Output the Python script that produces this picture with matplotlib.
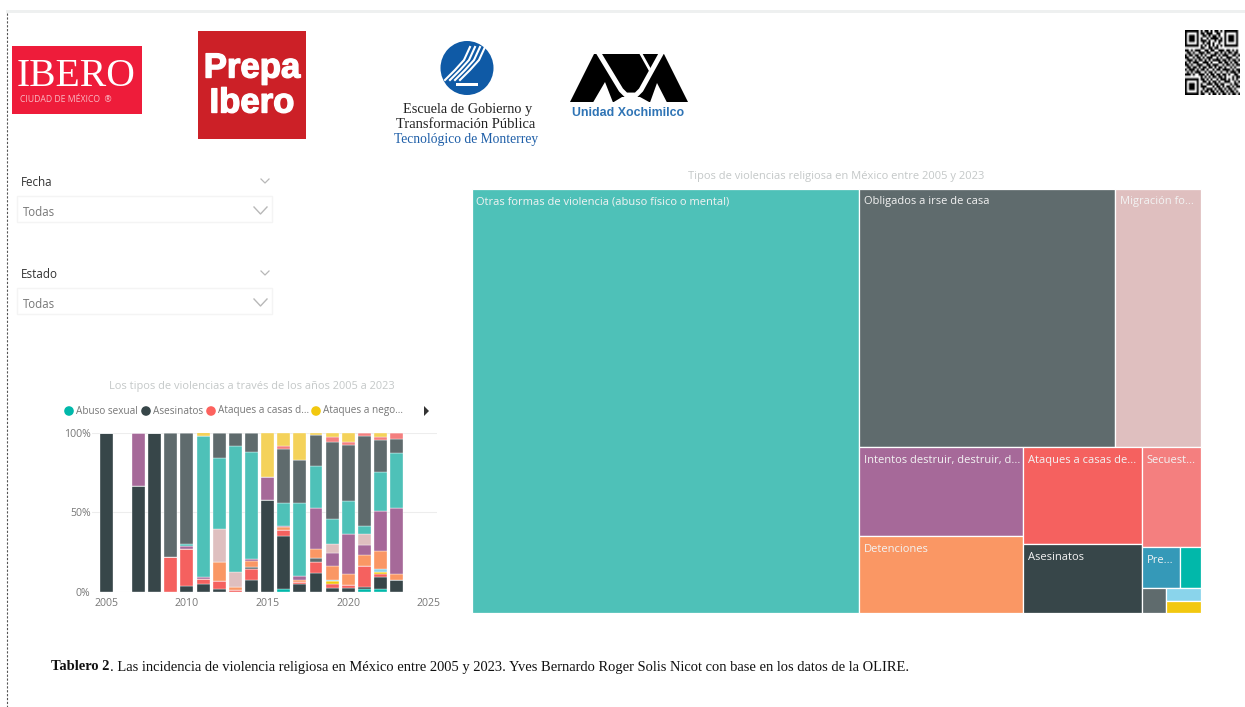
import matplotlib
matplotlib.use("Agg")
import matplotlib.pyplot as plt
import matplotlib.patheffects as pe
from matplotlib.patches import Rectangle, Ellipse, Polygon, Circle
import numpy as np

W, H = 1245, 707

# bar chart data (share per year, %), bottom to top
years = list(range(2005, 2024))
abuso_sexual = [0, 0, 0, 0, 0, 0, 0, 0, 0, 0, 0, 1.5, 0, 0, 0, 0, 1.5, 1.5, 0]
asesinatos = [100, 0, 66.5, 100, 0, 3.5, 4.5, 1.5, 0, 7, 57.5, 33.5, 5, 11.5, 2.5, 2.5, 1.5, 7.5, 7]
ataques_casas = [0, 0, 0, 0, 22, 23, 3.5, 5, 1, 7, 0, 4, 1, 7, 2, 1.5, 13, 2, 0]
ataques_negocios = [0, 0, 0, 0, 0, 0, 0, 0, 0, 0, 0, 0, 0, 0, 2, 0, 0, 1, 0]
otros_gris = [0, 0, 0, 0, 0, 0, 0, 0, 0, 1.5, 0, 0, 0, 2.5, 0, 0, 0, 0, 0]
otros_azul = [0, 0, 0, 0, 0, 0, 0, 0, 0, 0, 0, 0, 0, 0, 1, 0, 0, 2, 0]
detenciones = [0, 0, 0, 0, 0, 0, 0, 12, 2, 4, 0, 1.5, 1.5, 5.5, 8.5, 7, 7, 11.5, 4]
intentos = [0, 0, 33.5, 0, 0, 2, 1, 0, 0, 1, 14.5, 1, 2, 26, 8.5, 25.5, 6.5, 25, 41.5]
migracion = [0, 0, 0, 0, 0, 0, 0, 21, 9.5, 0, 0, 0, 0, 0, 5.5, 0, 6.5, 0, 0]
otras_formas = [0, 0, 0, 0, 0, 1.5, 89, 44.5, 79, 67.5, 0, 14, 46, 26.5, 15.5, 20.5, 5, 24.5, 34.5]
obligados = [0, 0, 0, 0, 78, 70, 0, 15.5, 8, 11.5, 0, 34.5, 27.5, 19.5, 48.5, 35.5, 57, 20.5, 9]
secuestros = [0, 0, 0, 0, 0, 0, 0, 0, 0, 0, 0, 1.5, 0, 0, 3, 1.5, 2, 1.5, 4]
amarillo_claro = [0, 0, 0, 0, 0, 0, 2.5, 0.5, 0.5, 0.5, 28, 8.5, 17, 1.5, 3, 6, 0, 3, 0]

bar_series = [
    (abuso_sexual, "#01B8AA"), (asesinatos, "#374649"), (ataques_casas, "#F5615F"),
    (ataques_negocios, "#F2C80F"), (otros_gris, "#5F6B6D"), (otros_azul, "#8AD4EB"),
    (detenciones, "#FA9764"), (intentos, "#A66999"), (migracion, "#DFBFBF"),
    (otras_formas, "#4EC1B8"), (obligados, "#5F6B6D"), (secuestros, "#F47F7F"),
    (amarillo_claro, "#F4D25A"),
]

legend_names = ["Abuso sexual", "Asesinatos", "Ataques a casas d...", "Ataques a nego..."]
legend_colors = ["#01B8AA", "#374649", "#FD625E", "#F2C80F"]
legend_x = [69, 146, 211, 316]

# treemap values, named by label
tm_otras = 163664
tm_obligados = 66048
tm_migracion = 22188
tm_intentos = 14507
tm_detenciones = 12551
tm_casas = 11446
tm_asesinatos = 8142
tm_secuestros = 5880
tm_pre = 1558
tm_abuso = 861
tm_gris = 600
tm_azul = 442
tm_negocios = 408

qr_rows = [
    "1111111010110101101011111110",
    "1000001011011100110010000010",
    "1011101001101011010010111010",
    "1011101010010111101010111010",
    "1011101011101001011010111010",
    "1000001001011010010010000010",
    "1111111010101010101011111110",
    "0000000011001101100000000000",
    "1101011100110110011101101010",
    "0110100111011001101010110110",
    "1011011010100111010111001101",
    "1100101101011100101001110010",
    "0111010110101011110110101101",
    "1010111001110100011011010110",
    "1101001110011011100101101011",
    "0110110101101101011010010100",
    "1011101011010010110111101011",
    "0101011100101101001001011101",
    "1110100111010110110110100110",
    "0000000010101011011010001011",
    "1111111011010100101110101010",
    "1000001001101011010011100101",
    "1011101010011101101100010110",
    "1011101011100010110101101011",
    "1011101001011101011010110100",
    "1000001010110110101101011010",
    "1111111011001011010110101101",
]

fig = plt.figure(figsize=(W / 100, H / 100), dpi=100, facecolor="white")
plt.rcParams["font.family"] = ["Open Sans", "DejaVu Sans"]

bg = fig.add_axes([0, 0, 1, 1])
bg.set_xlim(0, W)
bg.set_ylim(H, 0)
bg.axis("off")

# page edge
bg.add_patch(Rectangle((6, 10), W, 3, color="#EEF0F0", lw=0))
bg.plot([6.5, 6.5], [13, H], color="#555555", lw=0.8, ls=(0, (2, 1.5)))

# logos
bg.add_patch(Rectangle((12, 46), 130, 68, color="#EE1C3A", lw=0))
bg.text(76, 76, "IBERO", family="Liberation Serif", color="white", fontsize=28.5, ha="center", va="center")
bg.text(66, 100, "CIUDAD DE MÉXICO  ®", color="#F9B8C2", fontsize=6.2, ha="center", va="center")

bg.add_patch(Rectangle((198, 31), 108, 108, color="#CC2027", lw=0))
thick = [pe.withStroke(linewidth=1.0, foreground="white")]
bg.text(252, 68, "Prepa", color="white", fontsize=25, weight="bold", family="Liberation Sans",
        ha="center", va="center", path_effects=thick)
bg.text(252, 103, "Ibero", color="white", fontsize=25, weight="bold", family="Liberation Sans",
        ha="center", va="center", path_effects=thick)

bg.add_patch(Ellipse((467, 68), 53, 54, color="#0F5AA6", lw=0))
for dx in [-10, -5, 0, 5]:
    bg.plot([455 + dx, 465 + dx, 474 + dx, 480 + dx],
            [80, 70, 60, 47], color="white", lw=1.5)
bg.add_patch(Rectangle((456, 83), 22, 2.5, color="white", lw=0))
bg.text(468, 109, "Escuela de Gobierno y", family="Liberation Serif", fontsize=10.3, color="#222222", ha="center", va="center")
bg.text(466, 125, "Transformación Pública", family="Liberation Serif", fontsize=10.5, color="#222222", ha="center", va="center")
bg.text(466, 140, "Tecnológico de Monterrey", family="Liberation Serif", fontsize=9.8, color="#1F5FA8", ha="center", va="center")

bg.add_patch(Polygon([(570, 102), (594, 54), (664, 54), (688, 102)], color="black", lw=0))
bg.add_patch(Polygon([(593, 102.5), (605, 82), (613, 102.5)], color="white", lw=0))
bg.add_patch(Polygon([(650, 102.5), (657, 83), (667, 102.5)], color="white", lw=0))
bg.add_patch(Polygon([(613, 102.5), (650, 102.5), (640, 97), (622, 97)], color="white", lw=0))
bg.plot([598, 621, 626, 636, 641, 662], [52, 90, 95, 95, 90, 52], color="white", lw=3.5)
bg.plot([640, 650], [52, 70], color="white", lw=2)
bg.text(628, 113, "Unidad Xochimilco", family="Liberation Sans", weight="bold", fontsize=8.9, color="#2F74B5", ha="center", va="center")

# qr code
qr = np.array([[int(c) for c in row] for row in qr_rows])
bg.imshow(1 - qr, cmap="gray", extent=(1185, 1240, 95, 30), aspect="auto", interpolation="bilinear", vmin=0, vmax=1)
bg.set_xlim(0, W)
bg.set_ylim(H, 0)

# slicers
for top, name in [(182, "Fecha"), (274, "Estado")]:
    bg.text(21, top, name, fontsize=8.4, color="#333333", va="center")
    bg.plot([261, 265, 269], [top - 3, top + 1, top - 3], color="#B8B8B8", lw=0.9)
    bg.add_patch(Rectangle((17, top + 14), 255, 26, fc="white", ec="#F4F4F4", lw=1))
    bg.text(23, top + 30, "Todas", fontsize=8.3, color="#777777", va="center")
    bg.plot([254, 260.5, 267], [top + 25, top + 32, top + 25], color="#B8B8B8", lw=1)

# bar chart
px0, px1, py0, py1 = 92, 437, 591.5, 432.7
ax = fig.add_axes([px0 / W, 1 - py0 / H, (px1 - px0) / W, (py0 - py1) / H])
x0 = 2005 - (106.3 - px0) / 16.13
ax.set_xlim(x0, x0 + (px1 - px0) / 16.13)
ax.set_ylim(0, 100)
bottom = np.zeros(len(years))
for values, color in bar_series:
    ax.bar(years, values, width=0.8, bottom=bottom, color=color, edgecolor="white", linewidth=0.25, zorder=3)
    bottom += np.array(values)
for s in ax.spines.values():
    s.set_visible(False)
ax.set_xticks([2005, 2010, 2015, 2020, 2025])
ax.set_yticks([0, 50, 100])
ax.set_yticklabels(["0%", "50%", "100%"])
ax.tick_params(length=0, labelsize=7.6, labelcolor="#777777")
ax.tick_params(axis="x", pad=5)
ax.tick_params(axis="y", pad=1)
ax.grid(axis="y", color="#EDEDED", lw=0.8, zorder=0)
ax.set_axisbelow(True)
ax.patch.set_alpha(0)

bg.text(252, 386, "Los tipos de violencias a través de los años 2005 a 2023", fontsize=7.9, color="#C4C8C8", ha="center", va="center")
for name, color, lx in zip(legend_names, legend_colors, legend_x):
    bg.add_patch(Circle((lx, 411), 4.8, color=color, lw=0))
    bg.text(lx + 7, 411, name, fontsize=7.2, color="#777777", va="center")
bg.add_patch(Polygon([(424, 406), (429, 411), (424, 416)], color="#333333", lw=0))

# treemap, nested splits drawn from the values
def total(node):
    if isinstance(node, dict):
        return sum(total(k) for k in node["kids"])
    return node[0]

def layout(node, x, y, w, h, out):
    if not isinstance(node, dict):
        out.append((node, x, y, w, h))
        return
    tot = total(node)
    pos = 0
    for kid in node["kids"]:
        share = total(kid) / tot
        if node["dir"] == "h":
            layout(kid, x + pos * w, y, share * w, h, out)
        else:
            layout(kid, x, y + pos * h, w, share * h, out)
        pos += share

tree = {"dir": "h", "kids": [
    (tm_otras, "#4EC1B8", "Otras formas de violencia (abuso físico o mental)"),
    {"dir": "v", "kids": [
        {"dir": "h", "kids": [
            (tm_obligados, "#5F6B6D", "Obligados a irse de casa"),
            (tm_migracion, "#DFBFBF", "Migración fo..."),
        ]},
        {"dir": "h", "kids": [
            {"dir": "v", "kids": [
                (tm_intentos, "#A66999", "Intentos destruir, destruir, d..."),
                (tm_detenciones, "#FA9764", "Detenciones"),
            ]},
            {"dir": "v", "kids": [
                (tm_casas, "#F5615F", "Ataques a casas de..."),
                (tm_asesinatos, "#374649", "Asesinatos"),
            ]},
            {"dir": "v", "kids": [
                (tm_secuestros, "#F47F7F", "Secuest..."),
                {"dir": "h", "kids": [
                    (tm_pre, "#3599B8", "Pre..."),
                    (tm_abuso, "#01B8AA", ""),
                ]},
                {"dir": "h", "kids": [
                    (tm_gris, "#5F6B6D", ""),
                    {"dir": "v", "kids": [
                        (tm_azul, "#8AD4EB", ""),
                        (tm_negocios, "#F2C80F", ""),
                    ]},
                ]},
            ]},
        ]},
    ]},
]}

tm = fig.add_axes([0, 0, 1, 1])
tm.set_xlim(0, W)
tm.set_ylim(H, 0)
tm.axis("off")
tm.patch.set_alpha(0)
cells = []
layout(tree, 471.5, 188.5, 729.5, 424.5, cells)
for (value, color, label), x, y, w, h in cells:
    tm.add_patch(Rectangle((x, y), w, h, fc=color, ec="white", lw=0.9))
    if label:
        tm.text(x + 5, y + 13, label, fontsize=8.0, color="#F3F3F3", va="center")
tm.text(836, 176, "Tipos de violencias religiosa en México entre 2005 y 2023", fontsize=8.0, color="#C4C8C8", ha="center", va="center")

# caption
tm.text(51, 667, "Tablero 2", family="Liberation Serif", weight="bold", fontsize=10.45, color="#111111", va="center")
tm.text(110, 667, ". Las incidencia de violencia religiosa en México entre 2005 y 2023. Yves Bernardo Roger Solis Nicot con base en los datos de la OLIRE.",
        family="Liberation Serif", fontsize=10.45, color="#111111", va="center")

fig.savefig("out.png", dpi=100)
